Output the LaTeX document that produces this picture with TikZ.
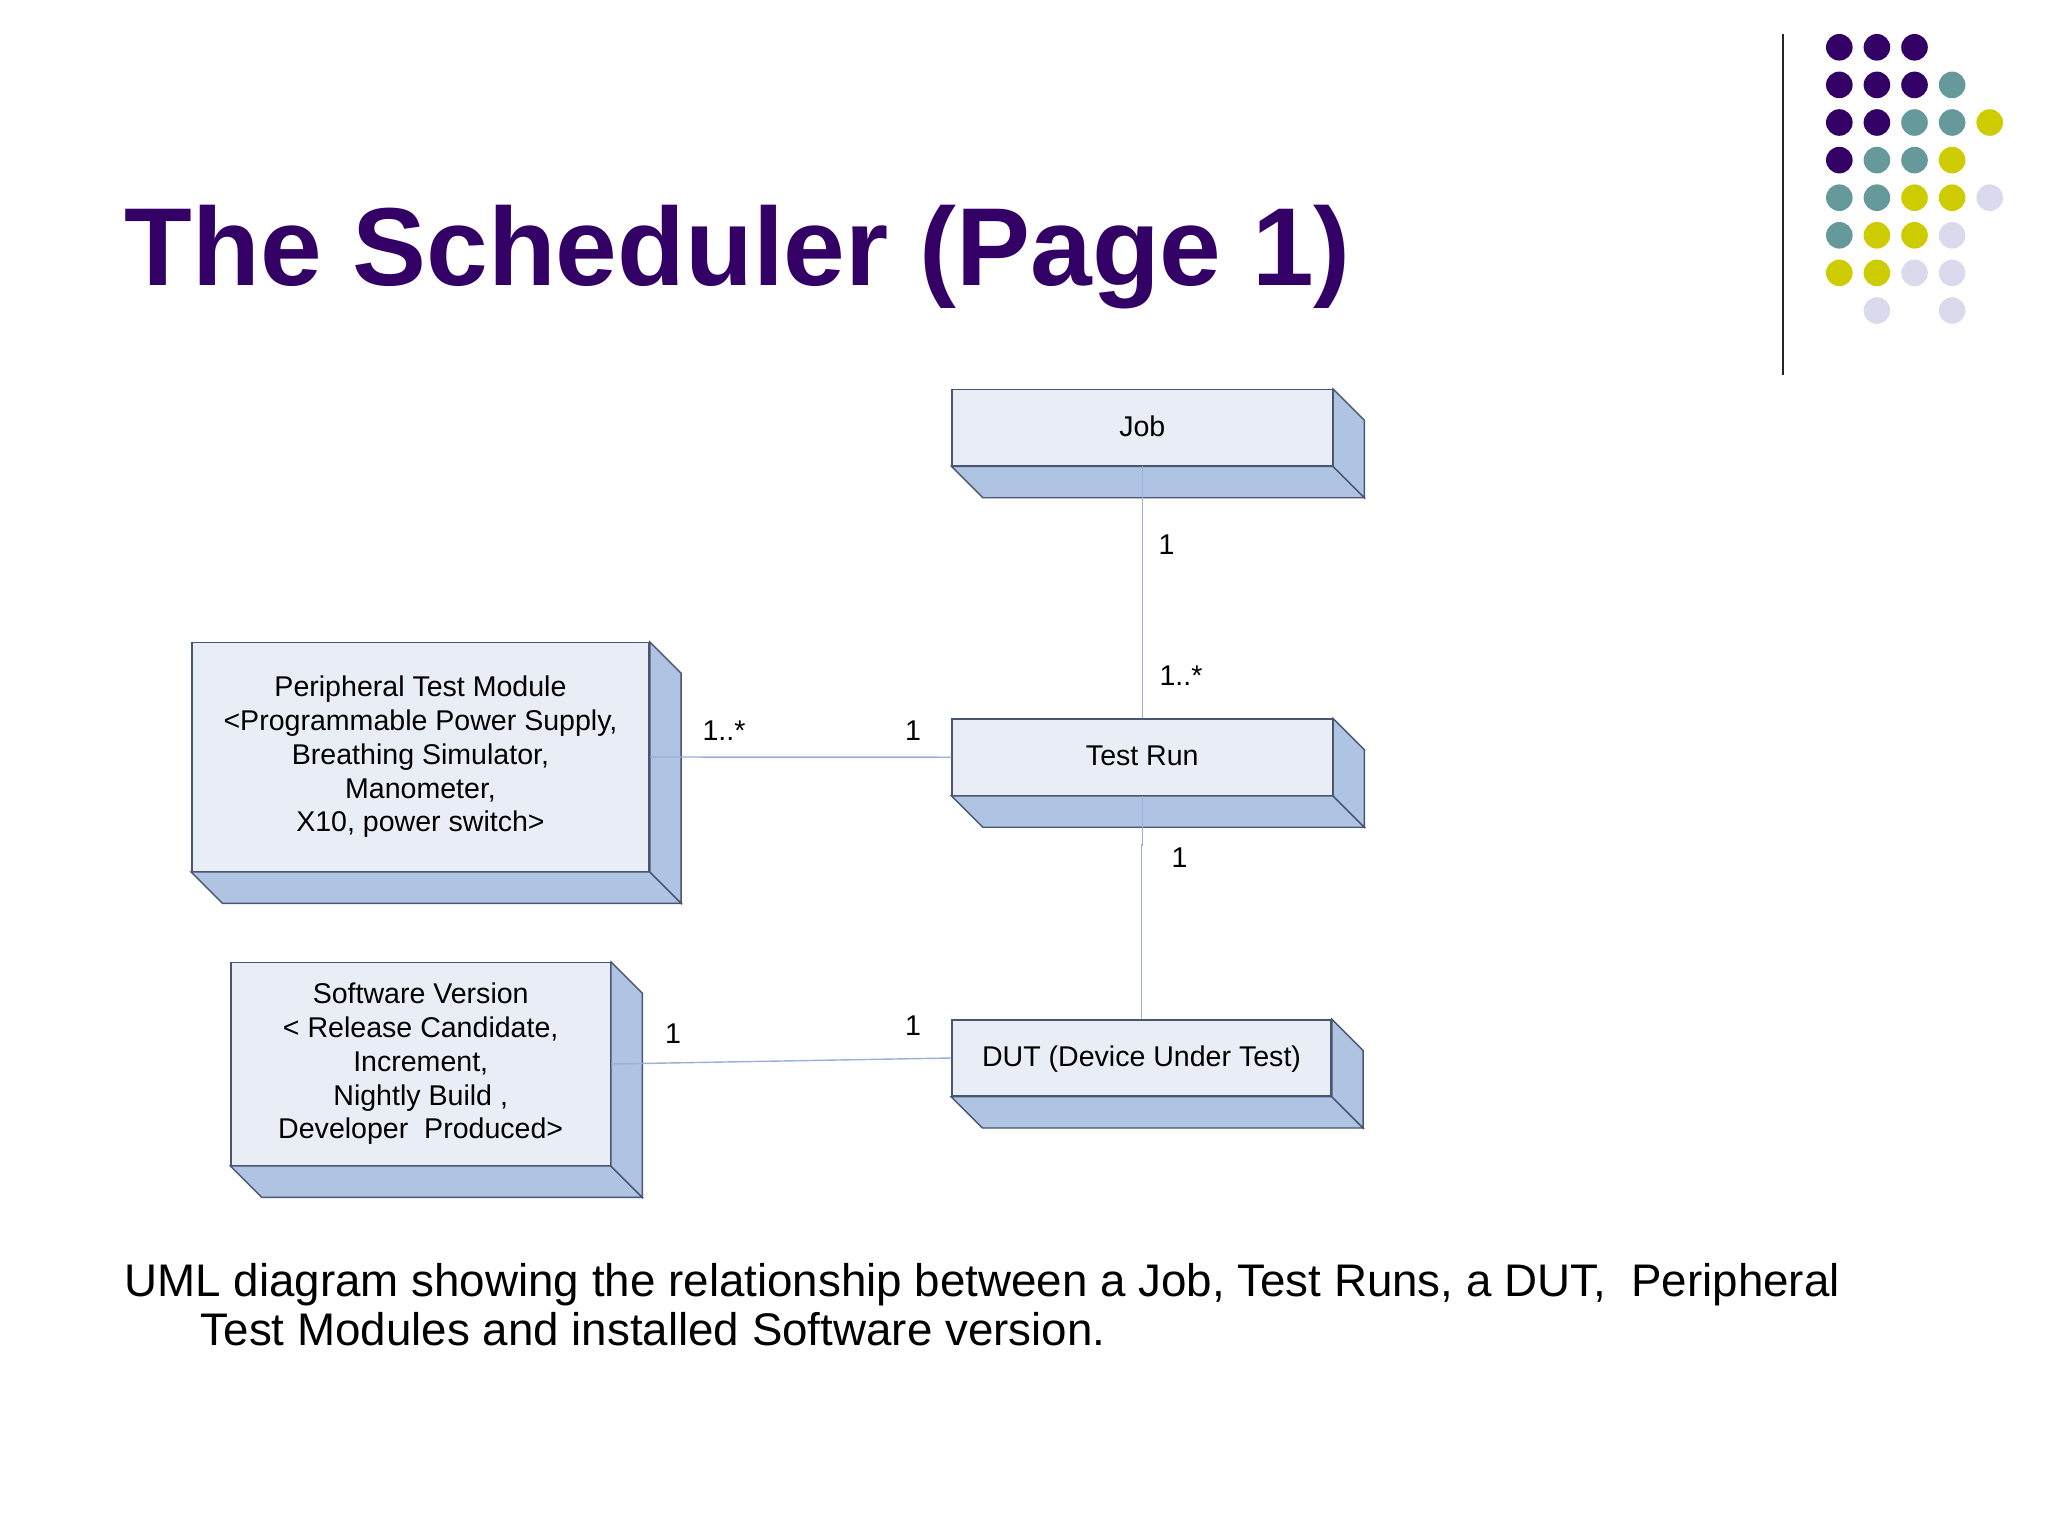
\documentclass[tikz,border=0pt]{standalone}
\usepackage{fontspec}
\setmainfont{Liberation Sans}
\usepackage{xcolor}
\usetikzlibrary{positioning,calc}

\definecolor{purpledot}{HTML}{330066}
\definecolor{tealdot}{HTML}{669999}
\definecolor{yellowdot}{HTML}{CCCC00}
\definecolor{lilacdot}{HTML}{DADAEC}
\definecolor{boxfront}{HTML}{E9EDF6}
\definecolor{boxside}{HTML}{AFC4E2}
\definecolor{boxedge}{HTML}{4A5570}
\definecolor{assoc}{HTML}{9AB0D6}

\tikzset{
  umlbox/.style={draw=boxedge, fill=boxfront, line width=0.4pt, inner sep=0pt, align=center,
    font=\fontsize{8.12}{9.6}\selectfont},
  onelinebox/.style={umlbox, minimum height=0.76cm, text height=6pt, text depth=1.2pt},
  mult/.style={inner sep=0pt, font=\fontsize{8.12}{9.6}\selectfont},
  assocline/.style={draw=assoc, line width=0.4pt}
}

\begin{document}
\begin{tikzpicture}[x=0.01cm, y=-0.01cm]

        \useasboundingbox (0,0) rectangle (2048,1536);

        % Title and caption
        \node[anchor=base west, inner sep=0pt, text=purpledot, font=\fontsize{31.53}{36}\selectfont\bfseries] (title) at (124,285) {The Scheduler (Page 1)};
        \node[anchor=base west, inner sep=0pt, font=\fontsize{13}{15}\selectfont] (captionA) at (124,1296.5) {UML diagram showing the relationship between a Job, Test Runs, a DUT,\ \ Peripheral};
        \node[anchor=base west, inner sep=0pt, font=\fontsize{13}{15}\selectfont] (captionB) at (200,1345.5) {Test Modules and installed Software version.};

        % Corner decoration
        \draw[line width=0.7pt, black!85] (1783,34) -- (1783,375);
        \foreach \dotrow [count=\j from 0] in {
            {purpledot,purpledot,purpledot},
            {purpledot,purpledot,purpledot,tealdot},
            {purpledot,purpledot,tealdot,tealdot,yellowdot},
            {purpledot,tealdot,tealdot,yellowdot},
            {tealdot,tealdot,yellowdot,yellowdot,lilacdot},
            {tealdot,yellowdot,yellowdot,lilacdot},
            {yellowdot,yellowdot,lilacdot,lilacdot},
            {none,lilacdot,none,lilacdot}} {
          \foreach \dotcol [count=\i from 0] in \dotrow {
            \path[fill=\dotcol] (1839.3+37.6*\i,47.3+37.6*\j) circle [radius=13.3];
          }
        }

        % Nodes
        \node[onelinebox, minimum width=3.80cm] (job) at (1142.3,427.7) {Job};
        \node[onelinebox, minimum width=3.80cm] (testrun) at (1142.3,757.2) {Test Run};
        \node[umlbox, minimum width=4.57cm, minimum height=2.285cm] (ptm) at (420.5,757) {Peripheral Test Module\\<Programmable Power Supply,\\Breathing Simulator,\\Manometer,\\X10, power switch>};
        \node[umlbox, minimum width=3.79cm, minimum height=2.025cm] (swver) at (420.7,1064) {Software Version\\< Release Candidate,\\Increment,\\Nightly Build ,\\Developer\ \ Produced>};
        \node[onelinebox, minimum width=3.79cm] (dut) at (1141.5,1058) {DUT (Device Under Test)};

        % Box depth
        \foreach \boxname in {job,testrun,ptm,swver,dut} {
          \draw[fill=boxside, draw=boxedge, line width=0.4pt] (\boxname.south west) -- ++(31.3,31.3) -- ($(\boxname.south east)+(31.3,31.3)$) -- (\boxname.south east) -- cycle;
          \draw[fill=boxside, draw=boxedge, line width=0.4pt] (\boxname.north east) -- ++(31.3,31.3) -- ($(\boxname.south east)+(31.3,31.3)$) -- (\boxname.south east) -- cycle;
        }

        % Connectors
        \draw[assocline] (job.south) -- (testrun.north);
        \draw[assocline] (testrun.south) -- ++(0,49) -| (dut.north);
        \draw[assocline] (ptm.east) -- (testrun.west);
        \draw[assocline] (swver.east) -- (dut.west);

        % Multiplicities
        \node[mult] (jobone) at (1166.5,544.5) {1};
        \node[mult] (runmany) at (1181,676) {1..*};
        \node[mult] (ptmmany) at (724,731) {1..*};
        \node[mult] (runone) at (913,731) {1};
        \node[mult] (rundut) at (1179.5,858) {1};
        \node[mult] (swone) at (673,1034) {1};
        \node[mult] (dutone) at (913,1026) {1};

    \end{tikzpicture}
\end{document}
